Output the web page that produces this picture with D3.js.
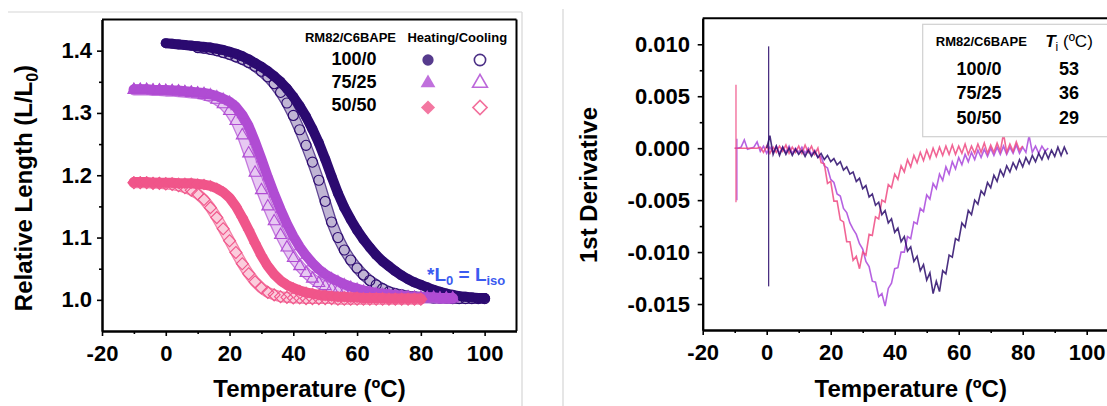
<!DOCTYPE html>
<html>
<head>
<meta charset="utf-8">
<script src="https://cdn.jsdelivr.net/npm/d3@7"></script>
<style>
  body { margin: 0; background: #fff; }
  svg { display: block; font-family: 'Liberation Sans', Arial, sans-serif; }
  .axis path, .axis line { stroke: #000; }
  .axis path { stroke-width: 2; }
  .axis line { stroke-width: 1.6; }
  .axis text { font-size: 22px; font-weight: bold; fill: #000; font-family: 'Liberation Sans', Arial, sans-serif; }
</style>
</head>
<body>
<svg id="fig" width="1107" height="406"></svg>
<script>
// ---- left panel: relative length vs temperature (2 degC steps) ----
const tempLeft = [-10, -8, -6, -4, -2, 0, 2, 4, 6, 8,
  10, 12, 14, 16, 18, 20, 22, 24, 26, 28,
  30, 32, 34, 36, 38, 40, 42, 44, 46, 48,
  50, 52, 54, 56, 58, 60, 62, 64, 66, 68,
  70, 72, 74, 76, 78, 80, 82, 84, 86, 88,
  90, 92, 94, 96, 98, 100];

const len100Heat = [null, null, null, null, null, 1.412, 1.411, 1.410, 1.409, 1.408,
  1.407, 1.406, 1.405, 1.403, 1.401, 1.398, 1.395, 1.391, 1.386, 1.380,
  1.374, 1.367, 1.359, 1.350, 1.339, 1.326, 1.311, 1.294, 1.274, 1.252,
  1.226, 1.198, 1.171, 1.148, 1.129, 1.112, 1.097, 1.084, 1.072, 1.062,
  1.054, 1.046, 1.039, 1.033, 1.028, 1.024, 1.020, 1.016, 1.013, 1.010,
  1.008, 1.006, 1.005, 1.004, 1.003, 1.003];
const len100Cool = [null, null, null, null, null, null, null, null, null, null,
  1.405, 1.404, 1.402, 1.400, 1.397, 1.394, 1.390, 1.386, 1.381, 1.375,
  1.367, 1.358, 1.347, 1.333, 1.316, 1.296, 1.273, 1.248, 1.221, 1.192,
  1.158, 1.125, 1.100, 1.080, 1.064, 1.051, 1.040, 1.031, 1.024, 1.018,
  1.013, 1.010, 1.008, 1.006, 1.005, 1.004, 1.004, 1.003, 1.003, 1.003,
  1.002, 1.002, 1.002, 1.002, 1.002, 1.002];
const len75Heat = [1.338, 1.338, 1.338, 1.337, 1.337, 1.337, 1.336, 1.336, 1.335, 1.334,
  1.333, 1.332, 1.330, 1.327, 1.323, 1.318, 1.310, 1.297, 1.279, 1.254,
  1.226, 1.197, 1.170, 1.145, 1.122, 1.102, 1.085, 1.071, 1.059, 1.049,
  1.041, 1.035, 1.030, 1.025, 1.021, 1.018, 1.015, 1.013, 1.011, 1.010,
  1.009, 1.008, 1.007, 1.006, 1.005, 1.005, 1.004, 1.004, 1.003, 1.003,
  1.003, null, null, null, null, null];
const len75Cool = [1.337, 1.337, 1.337, 1.336, 1.336, 1.335, 1.335, 1.334, 1.333, 1.332,
  1.331, 1.329, 1.326, 1.321, 1.314, 1.303, 1.287, 1.264, 1.235, 1.204,
  1.176, 1.150, 1.126, 1.104, 1.084, 1.067, 1.054, 1.043, 1.034, 1.027,
  1.022, 1.018, 1.015, 1.012, 1.010, 1.008, 1.007, 1.006, 1.005, 1.005,
  1.004, 1.004, 1.004, 1.003, 1.003, 1.003, 1.003, 1.003, 1.002, 1.002,
  1.002, null, null, null, null, null];
const len50Heat = [1.189, 1.189, 1.189, 1.188, 1.188, 1.188, 1.188, 1.187, 1.187, 1.187,
  1.186, 1.185, 1.183, 1.179, 1.173, 1.164, 1.150, 1.132, 1.112, 1.091,
  1.071, 1.054, 1.041, 1.031, 1.024, 1.019, 1.015, 1.012, 1.010, 1.008,
  1.007, 1.006, 1.005, 1.005, 1.004, 1.004, 1.003, 1.003, 1.003, 1.003,
  1.002, 1.002, 1.002, 1.002, 1.002, 1.002, null, null, null, null,
  null, null, null, null, null, null];
const len50Cool = [1.188, 1.188, 1.188, 1.187, 1.187, 1.186, 1.185, 1.183, 1.180, 1.176,
  1.170, 1.161, 1.148, 1.132, 1.114, 1.095, 1.076, 1.058, 1.042, 1.029,
  1.019, 1.012, 1.008, 1.005, 1.004, 1.003, 1.003, 1.002, 1.002, 1.002,
  1.002, 1.002, 1.001, 1.001, 1.001, 1.001, 1.001, 1.001, 1.001, 1.001,
  1.001, 1.001, 1.001, 1.001, 1.001, 1.001, null, null, null, null,
  null, null, null, null, null, null];

// ---- right panel: 1st derivative (1 degC steps) ----
const tempDeriv = [-10, -9, -8, -7, -6, -5, -4, -3, -2, -1,
  0, 1, 2, 3, 4, 5, 6, 7, 8, 9,
  10, 11, 12, 13, 14, 15, 16, 17, 18, 19,
  20, 21, 22, 23, 24, 25, 26, 27, 28, 29,
  30, 31, 32, 33, 34, 35, 36, 37, 38, 39,
  40, 41, 42, 43, 44, 45, 46, 47, 48, 49,
  50, 51, 52, 53, 54, 55, 56, 57, 58, 59,
  60, 61, 62, 63, 64, 65, 66, 67, 68, 69,
  70, 71, 72, 73, 74, 75, 76, 77, 78, 79,
  80, 81, 82, 83, 84, 85, 86, 87, 88, 89,
  90, 91, 92, 93, 94];

const deriv50 = [0, 0, 0, 0, 0, 0, 0, 0, 0.0001, -0.0004,
  0.0002, -0.0005, 0.0001, -0.0004, 0.0002, -0.0003, 0.0003, -0.0005, 0.0001, -0.0004,
  0.0002, -0.0005, 0.0003, -0.0004, 0.0002, -0.0006, 0.0000, -0.0014, -0.0015, -0.0034,
  -0.0032, -0.0051, -0.0051, -0.0069, -0.0071, -0.0090, -0.0090, -0.0108, -0.0104, -0.0116,
  -0.0100, -0.0103, -0.0083, -0.0084, -0.0066, -0.0068, -0.0050, -0.0052, -0.0035, -0.0038,
  -0.0025, -0.0030, -0.0017, -0.0023, -0.0011, -0.0018, -0.0007, -0.0014, -0.0004, -0.0012,
  -0.0002, -0.0010, 0.0000, -0.0008, 0.0001, -0.0007, 0.0002, -0.0006, 0.0003, -0.0006,
  0.0002, -0.0005, 0.0004, -0.0006, 0.0002, -0.0005, 0.0004, -0.0004, 0.0005, -0.0005,
  0.0003, -0.0004, 0.0005, -0.0003, 0.0014, -0.0004, 0.0004, -0.0003, 0.0006, -0.0002,
  0.0002, null, null, null, null, null, null, null, null, null,
  null, null, null, null, null];
const deriv75 = [0, 0, 0.0001, 0.0008, -0.0001, 0.0000, 0.0001, 0.0006, -0.0003, 0.0002,
  -0.0005, 0.0001, -0.0004, 0.0002, -0.0005, 0.0001, -0.0004, 0.0002, -0.0005, 0.0000,
  -0.0004, 0.0001, -0.0005, 0.0000, -0.0006, -0.0002, -0.0009, -0.0008, -0.0017, -0.0019,
  -0.0030, -0.0033, -0.0044, -0.0046, -0.0058, -0.0062, -0.0072, -0.0078, -0.0083, -0.0092,
  -0.0097, -0.0109, -0.0114, -0.0128, -0.0129, -0.0143, -0.0140, -0.0152, -0.0135, -0.0130,
  -0.0116, -0.0115, -0.0100, -0.0100, -0.0085, -0.0087, -0.0071, -0.0073, -0.0058, -0.0061,
  -0.0045, -0.0049, -0.0034, -0.0039, -0.0025, -0.0031, -0.0018, -0.0025, -0.0013, -0.0020,
  -0.0009, -0.0016, -0.0006, -0.0013, -0.0004, -0.0011, -0.0002, -0.0009, -0.0001, -0.0008,
  0.0000, -0.0007, 0.0001, -0.0006, 0.0002, -0.0006, 0.0001, -0.0005, 0.0003, -0.0005,
  0.0001, -0.0004, 0.0012, -0.0004, 0.0002, -0.0005, 0.0002, -0.0003, 0.0000, null,
  null, null, null, null, null];
const deriv100 = [null, null, null, null, null, null, null, null, null, null,
  0.0000, 0.0012, -0.0006, 0.0002, -0.0007, 0.0001, -0.0006, 0.0000, -0.0007, -0.0001,
  -0.0006, -0.0002, -0.0008, -0.0002, -0.0008, -0.0003, -0.0009, -0.0005, -0.0011, -0.0007,
  -0.0013, -0.0010, -0.0016, -0.0013, -0.0021, -0.0018, -0.0025, -0.0023, -0.0032, -0.0029,
  -0.0039, -0.0036, -0.0047, -0.0044, -0.0055, -0.0052, -0.0064, -0.0060, -0.0072, -0.0068,
  -0.0081, -0.0077, -0.0090, -0.0085, -0.0099, -0.0095, -0.0109, -0.0104, -0.0118, -0.0112,
  -0.0127, -0.0120, -0.0140, -0.0128, -0.0138, -0.0118, -0.0121, -0.0103, -0.0105, -0.0087,
  -0.0089, -0.0072, -0.0076, -0.0060, -0.0064, -0.0050, -0.0054, -0.0041, -0.0045, -0.0033,
  -0.0038, -0.0026, -0.0032, -0.0021, -0.0027, -0.0017, -0.0023, -0.0014, -0.0020, -0.0011,
  -0.0018, -0.0009, -0.0015, -0.0007, -0.0013, -0.0005, -0.0011, -0.0003, -0.0010, -0.0002,
  -0.0008, 0.0001, -0.0007, 0.0001, -0.0006];

// sharp single-point spikes at the start of each run
const derivSpikes = [
  {name: '75/25', t: -9.3, hi: 0.0009, lo: -0.0050},
  {name: '50/50', t: -9.6, hi: 0.0061, lo: -0.0052},
  {name: '100/0', t: 0.6, hi: 0.0098, lo: -0.0133}
];

const compositions = ['100/0', '75/25', '50/50'];
const isoTemps = ['53', '36', '29'];

const xTicks = [-20, 0, 20, 40, 60, 80, 100];
const xMinor = [-10, 10, 30, 50, 70, 90];
const lenTicks = [1.0, 1.1, 1.2, 1.3, 1.4];
const lenMinor = [1.05, 1.15, 1.25, 1.35];
const derivTicks = [-0.015, -0.010, -0.005, 0.000, 0.005, 0.010];
const derivMinor = [-0.0125, -0.0075, -0.0025, 0.0025, 0.0075];

const colors = {'100/0': '#2c0a70', '75/25': '#b04cd3', '50/50': '#f0558a'};
const lineColors = {'100/0': '#2a0b6b', '75/25': '#a947dc', '50/50': '#ee4a82'};

const svg = d3.select('#fig');
const fmt = f => d => d3.format(f)(d).replace('\u2212', '-');

// panel borders (light gray)
svg.append('line').attr('x1', 8).attr('x2', 522).attr('y1', 12).attr('y2', 12)
    .attr('stroke', '#d6d6d6').attr('stroke-width', 1.2);
svg.append('line').attr('x1', 522).attr('x2', 522).attr('y1', 12).attr('y2', 406)
    .attr('stroke', '#d6d6d6').attr('stroke-width', 1.2);
svg.append('line').attr('x1', 563).attr('x2', 563).attr('y1', 9).attr('y2', 406)
    .attr('stroke', '#d6d6d6').attr('stroke-width', 1.2);

function drawAxes(g, x, y, yTicks, yMinor, yFmt, yPad) {
    const [x0, x1] = x.range();
    const [y0, y1] = y.range();
    g.append('g').attr('class', 'axis').attr('transform', `translate(0,${y0})`)
        .call(d3.axisBottom(x).tickValues(xMinor).tickSize(3).tickFormat('').tickSizeOuter(0));
    g.append('g').attr('class', 'axis').attr('transform', `translate(0,${y0})`)
        .call(d3.axisBottom(x).tickValues(xTicks).tickSize(5).tickPadding(9.5).tickSizeOuter(0).tickFormat(fmt('d')));
    g.append('g').attr('class', 'axis').attr('transform', `translate(${x0},0)`)
        .call(d3.axisLeft(y).tickValues(yMinor).tickSize(3).tickFormat('').tickSizeOuter(0));
    g.append('g').attr('class', 'axis').attr('transform', `translate(${x0},0)`)
        .call(d3.axisLeft(y).tickValues(yTicks).tickSize(5).tickPadding(yPad).tickSizeOuter(0).tickFormat(yFmt));
    g.append('line').attr('x1', x0).attr('x2', x1).attr('y1', y1).attr('y2', y1)
        .attr('stroke', '#000').attr('stroke-width', 2);
    g.append('line').attr('x1', x1).attr('x2', x1).attr('y1', y1).attr('y2', y0)
        .attr('stroke', '#000').attr('stroke-width', 2);
}

// ================= left: relative length =================
const xL = d3.scaleLinear().domain([-20, 110]).range([102, 516.5]);
const yL = d3.scaleLinear().domain([0.95, 1.45]).range([331, 19.5]);
const left = svg.append('g');

const lengthSeries = [
    {name: '100/0', shape: 'circle', heat: len100Heat, cool: len100Cool},
    {name: '75/25', shape: 'triangle', heat: len75Heat, cool: len75Cool},
    {name: '50/50', shape: 'diamond', heat: len50Heat, cool: len50Cool}
];

const symbolType = {circle: d3.symbolCircle, triangle: d3.symbolTriangle, diamond: d3.symbolSquare};
const symbolPath = {
    circle: d3.symbol(d3.symbolCircle, 80)(),
    triangle: d3.symbol(d3.symbolTriangle, 62)(),
    diamond: d3.symbol(d3.symbolSquare, 72)()
};
const symRot = s => s === 'diamond' ? ' rotate(45)' : '';

const toPts = vals => tempLeft.map((t, i) => [t, vals[i]]).filter(d => d[1] != null);
const bandLine = d3.line().x(d => xL(d[0])).y(d => yL(d[1]));

lengthSeries.forEach(s => {
    const c = colors[s.name];
    const heat = toPts(s.heat), cool = toPts(s.cool);

    // cooling: hatched band of open markers (darker rim, tinted core)
    left.append('path').attr('d', bandLine(cool)).attr('fill', 'none')
        .attr('stroke', c).attr('stroke-opacity', 0.75).attr('stroke-width', 11)
        .attr('stroke-linecap', 'round').attr('stroke-linejoin', 'round');
    left.append('path').attr('d', bandLine(cool)).attr('fill', 'none')
        .attr('stroke', '#fff').attr('stroke-opacity', 0.6).attr('stroke-width', 8.4)
        .attr('stroke-linecap', 'round').attr('stroke-linejoin', 'round');
    left.selectAll(null).data(cool).enter().append('path')
        .attr('d', symbolPath[s.shape])
        .attr('transform', d => `translate(${xL(d[0])},${yL(d[1])})${symRot(s.shape)}`)
        .attr('fill', 'none').attr('stroke', c).attr('stroke-width', 1.1);

    // heating: solid band of filled markers, drawn on top
    left.append('path').attr('d', bandLine(heat)).attr('fill', 'none')
        .attr('stroke', c).attr('stroke-width', 10)
        .attr('stroke-linecap', 'round').attr('stroke-linejoin', 'round');
    left.selectAll(null).data(heat).enter().append('path')
        .attr('d', symbolPath[s.shape])
        .attr('transform', d => `translate(${xL(d[0])},${yL(d[1])})${symRot(s.shape)}`)
        .attr('fill', c).attr('fill-opacity', 0.8);
});

drawAxes(left, xL, yL, lenTicks, lenMinor, d3.format('.1f'), 5);

left.append('text').attr('x', 309.5).attr('y', 397).attr('text-anchor', 'middle')
    .attr('font-size', 24).attr('font-weight', 'bold').text('Temperature (ºC)');
const yTitle = left.append('text').attr('transform', 'translate(31.5,188) rotate(-90)')
    .attr('text-anchor', 'middle').attr('font-size', 24).attr('font-weight', 'bold');
yTitle.append('tspan').text('Relative Length (L/L');
yTitle.append('tspan').attr('font-size', 16).attr('dy', 6).text('0');
yTitle.append('tspan').attr('dy', -6).text(')');

// legend
const legL = left.append('g').attr('font-weight', 'bold').attr('text-anchor', 'middle');
legL.append('text').attr('x', 350.5).attr('y', 41.7).attr('font-size', 13).text('RM82/C6BAPE');
legL.append('text').attr('x', 457.3).attr('y', 41.7).attr('font-size', 13).text('Heating/Cooling');
const legRowY = [65, 87.5, 111];
const legSymY = [60, 83, 107.5];
lengthSeries.forEach((s, i) => {
    const c = colors[s.name];
    const sym = d3.symbol(symbolType[s.shape], s.shape === 'triangle' ? 95 : 100)();
    legL.append('text').attr('x', 354).attr('y', legRowY[i]).attr('font-size', 18).text(s.name);
    legL.append('path').attr('d', sym)
        .attr('transform', `translate(428,${legSymY[i]})${symRot(s.shape)}`)
        .attr('fill', c).attr('fill-opacity', 0.8);
    legL.append('path').attr('d', sym)
        .attr('transform', `translate(480,${legSymY[i]})${symRot(s.shape)}`)
        .attr('fill', 'none').attr('stroke', c).attr('stroke-opacity', 0.85).attr('stroke-width', 1.6);
});

const iso = left.append('text').attr('x', 427).attr('y', 281).attr('font-size', 19)
    .attr('font-weight', 'bold').attr('fill', '#3b5bf0');
iso.append('tspan').text('*L');
iso.append('tspan').attr('font-size', 13).attr('dy', 4).text('0');
iso.append('tspan').attr('dy', -4).text(' = L');
iso.append('tspan').attr('font-size', 13).attr('dy', 4).text('iso');

// ================= right: 1st derivative =================
const xR = d3.scaleLinear().domain([-20, 110]).range([702.7, 1118.7]);
const yR = d3.scaleLinear().domain([-0.0175, 0.0125]).range([330, 18.3]);
const right = svg.append('g');

const derivSeries = [
    {name: '75/25', vals: deriv75},
    {name: '50/50', vals: deriv50},
    {name: '100/0', vals: deriv100}
];
const derivLine = d3.line().defined(d => d[1] != null)
    .x(d => xR(d[0])).y(d => yR(d[1]));

derivSeries.forEach(s => {
    right.append('path')
        .attr('d', derivLine(tempDeriv.map((t, i) => [t, s.vals[i]])))
        .attr('fill', 'none').attr('stroke', lineColors[s.name])
        .attr('stroke-width', 1.6).attr('stroke-opacity', 0.85);
});
right.selectAll('.spike').data(derivSpikes).enter().append('line')
    .attr('x1', d => xR(d.t)).attr('x2', d => xR(d.t))
    .attr('y1', d => yR(d.hi)).attr('y2', d => yR(d.lo))
    .attr('stroke', d => lineColors[d.name]).attr('stroke-width', 1.3).attr('stroke-opacity', 0.85);

drawAxes(right, xR, yR, derivTicks, derivMinor, fmt('.3f'), 7.7);

right.append('text').attr('x', 910.7).attr('y', 397).attr('text-anchor', 'middle')
    .attr('font-size', 24).attr('font-weight', 'bold').text('Temperature (ºC)');
right.append('text').attr('transform', 'translate(597,185) rotate(-90)')
    .attr('text-anchor', 'middle').attr('font-size', 24).attr('font-weight', 'bold')
    .text('1st Derivative');

// legend table
const legR = right.append('g').attr('text-anchor', 'middle');
legR.append('rect').attr('x', 922.7).attr('y', 24.3).attr('width', 200).attr('height', 112.4)
    .attr('fill', '#fff').attr('stroke', '#d0d0d0').attr('stroke-width', 1.2);
legR.append('text').attr('x', 981.3).attr('y', 45.7).attr('font-size', 13)
    .attr('font-weight', 'bold').text('RM82/C6BAPE');
const ti = legR.append('text').attr('x', 1069).attr('y', 46.7).attr('font-size', 17);
ti.append('tspan').attr('font-style', 'italic').attr('font-weight', 'bold').text('T');
ti.append('tspan').attr('font-size', 12).attr('dy', 4).text('i');
ti.append('tspan').attr('dy', -4).text(' (ºC)');
const legRRowY = [75, 99.3, 124];
compositions.forEach((name, i) => {
    legR.append('text').attr('x', 979).attr('y', legRRowY[i]).attr('font-size', 18)
        .attr('font-weight', 'bold').text(name);
    legR.append('text').attr('x', 1069).attr('y', legRRowY[i]).attr('font-size', 18)
        .attr('font-weight', 'bold').text(isoTemps[i]);
});
</script>
</body>
</html>
